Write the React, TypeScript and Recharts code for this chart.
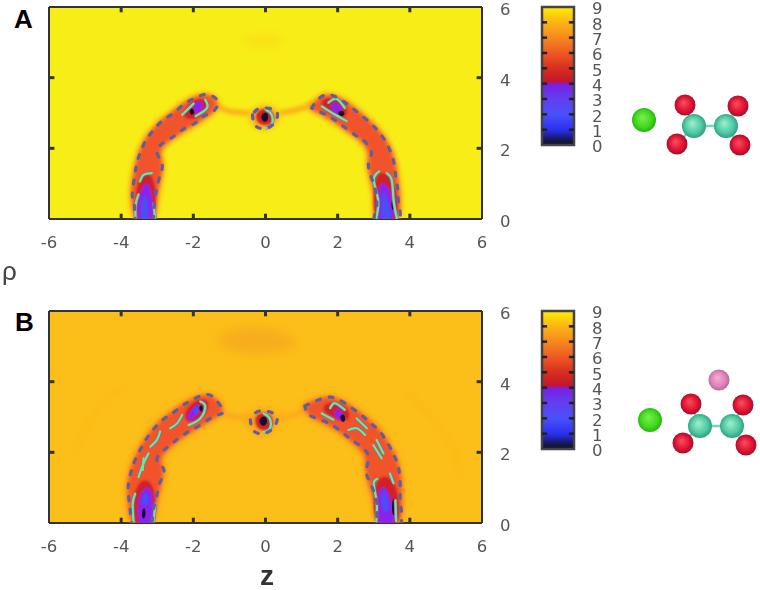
import React from "react";
import {
  CartesianGrid,
  Curve,
  Scatter,
  ScatterChart,
  XAxis,
  YAxis,
} from "recharts";

type Pt = [number, number];

const zTicks = [-6, -4, -2, 0, 2, 4, 6];
const rhoTicks = [0, 2, 4, 6];
const barTicks = [0, 1, 2, 3, 4, 5, 6, 7, 8, 9];
const barBox: Pt[] = [[0, 0], [1, 0], [1, 9], [0, 9]];

// inward tick marks, drawn as short segments so they sit above the field
const plotTickMarks: Pt[][] = [
  ...[-4, -2, 0, 2, 4].flatMap((z): Pt[][] => [[[z, 0], [z, 0.15]], [[z, 6], [z, 5.85]]]),
  ...[2, 4].flatMap((r): Pt[][] => [[[-6, r], [-5.85, r]], [[6, r], [5.85, r]]]),
];
const barTickMarks: Pt[][] = [1, 2, 3, 4, 5, 6, 7, 8].flatMap((v): Pt[][] => [[[0, v], [0.16, v]], [[1, v], [0.84, v]]]);

// ---- panel A as [z, rho]
const aLeftLoop: Pt[] = [
  [-3.61, -0.1], [-3.65, 0.54], [-3.69, 0.73], [-3.58, 1.49], [-3.47, 1.87], [-3.33, 2.2], [-3.13, 2.48], [-2.87, 2.77],
  [-2.57, 2.98], [-2.27, 3.24], [-1.94, 3.43], [-1.6, 3.52], [-1.32, 3.31], [-1.48, 3.02], [-1.71, 2.91], [-1.94, 2.72],
  [-2.22, 2.58], [-2.5, 2.37], [-2.81, 2.17], [-3.01, 1.91], [-2.87, 1.56], [-2.92, 1.25], [-3.01, 0.87], [-3.08, 0.45], [-3.1, -0.1],
];
const aRightLoop: Pt[] = [
  [1.28, 3.14], [1.44, 3.36], [1.74, 3.52], [2.16, 3.33], [2.48, 3.08], [2.82, 2.79], [3.1, 2.51], [3.31, 2.22], [3.47, 1.89],
  [3.57, 1.53], [3.61, 1.2], [3.66, 0.87], [3.69, 0.45], [3.66, -0.1], [3.08, -0.1], [3.06, 0.26], [3.08, 0.63], [2.99, 1.01],
  [2.85, 1.56], [2.94, 1.87], [2.76, 2.18], [2.55, 2.34], [2.25, 2.55], [1.94, 2.79], [1.62, 2.98], [1.28, 3.14],
];
const aCentreLoop: Pt[] = [[-0.36, 2.95], [-0.25, 2.61], [0.12, 2.61], [0.33, 2.9], [0.21, 3.1], [-0.16, 3.13], [-0.36, 2.95]];
const aBridgeL: Pt[] = [[-1.35, 3.2], [-1, 3.05], [-0.45, 3]];
const aBridgeR: Pt[] = [[1.3, 3.25], [0.9, 3.1], [0.4, 3]];
const aSmudge: Pt[] = [[-0.9, 5], [-0.3, 5.25], [0.6, 5.2], [0.5, 4.9], [-0.2, 4.85]];
const aLLRed: Pt[] = [[-3.6, -0.2], [-3.62, 0.6], [-3.5, 1.2], [-3.2, 1.35], [-3.02, 0.9], [-3.06, -0.2]];
const aLLPurple: Pt[] = [[-3.52, -0.2], [-3.55, 0.5], [-3.35, 1.05], [-3.2, 0.95], [-3.13, 0.4], [-3.16, -0.2]];
const aLLBlue: Pt[] = [[-3.47, -0.2], [-3.47, 0.5], [-3.33, 0.75], [-3.24, 0.5], [-3.22, -0.2]];
const aULRed: Pt[] = [[-2.36, 2.95], [-1.99, 3.43], [-1.57, 3.38], [-1.62, 3], [-2.08, 2.77]];
const aULPurple: Pt[] = [[-2.04, 3.19], [-1.81, 3.38], [-1.71, 3.14], [-1.94, 2.95]];
const aULBlack: Pt[] = [[-2.12, 3.1], [-2, 3.15], [-1.95, 2.98], [-2.08, 2.92]];
const aURRed: Pt[] = [[1.46, 3.29], [1.74, 3.48], [2.25, 3.29], [2.3, 2.81], [1.79, 2.95]];
const aURPurple: Pt[] = [[1.79, 3.29], [2.02, 3.29], [2.16, 2.95], [1.88, 3]];
const aURBlack: Pt[] = [[2, 3.05], [2.18, 3.08], [2.2, 2.9], [2.02, 2.92]];
const aLRRed: Pt[] = [[3, -0.2], [2.98, 0.9], [3.12, 1.4], [3.5, 1.2], [3.68, 0.6], [3.66, -0.2]];
const aLRPurple: Pt[] = [[3.13, -0.2], [3.12, 0.6], [3.2, 1.1], [3.4, 0.9], [3.55, 0.4], [3.55, -0.2]];
const aLRBlue: Pt[] = [[3.2, -0.2], [3.2, 0.5], [3.25, 0.9], [3.37, 0.6], [3.48, 0.2], [3.48, -0.2]];
const aLRBlack: Pt[] = [[3.5, 0.2], [3.48, 0.5], [3.55, 0.6], [3.62, 0.3]];
const aCentreRed: Pt[] = [[-0.3, 2.95], [-0.2, 2.65], [0.15, 2.65], [0.28, 2.9], [0.1, 3.12], [-0.15, 3.12]];
const aCentreDark: Pt[] = [[-0.15, 2.9], [-0.05, 2.72], [0.08, 2.78], [0.08, 3], [-0.05, 3.02]];
const aGreens: Pt[][] = [
  [[-3.6, 0.02], [-3.6, 0.4], [-3.52, 0.7]],
  [[-3.06, 0.02], [-3.1, 0.45]],
  [[-3.48, 1.06], [-3.38, 1.25], [-3.15, 1.3]],
  [[-2.31, 2.95], [-1.99, 3.27]],
  [[-1.94, 2.91], [-1.62, 3.14], [-1.67, 3.38]],
  [[1.56, 3.19], [1.93, 2.95], [2.25, 2.77]],
  [[1.74, 3.29], [1.97, 3.4], [2.2, 3.14]],
  [[3.07, 0.02], [3.12, 0.55], [3, 1.1], [3.15, 1.35]],
  [[3.64, 0.02], [3.55, 0.55], [3.5, 1.1], [3.36, 1.3]],
  [[0, 3.1], [0.17, 2.95], [0.17, 2.67], [0, 2.58]],
];

// ---- panel B
const bLeftLoop: Pt[] = [
  [-3.7, -0.1], [-3.77, 0.55], [-3.8, 1.07], [-3.7, 1.54], [-3.59, 1.83], [-3.38, 2.25], [-3.15, 2.59], [-2.87, 2.9],
  [-2.55, 3.13], [-2.27, 3.34], [-1.94, 3.53], [-1.57, 3.63], [-1.3, 3.39], [-1.18, 3.13], [-1.44, 3.01], [-1.81, 2.77],
  [-2.13, 2.59], [-2.47, 2.35], [-2.76, 2.11], [-3.01, 1.8], [-2.82, 1.52], [-2.92, 1.16], [-3.01, 0.79], [-3.1, 0.41], [-3.15, -0.1],
];
const bRightLoop: Pt[] = [
  [1.09, 3.31], [1.46, 3.48], [1.81, 3.56], [2.2, 3.39], [2.71, 3.01], [2.99, 2.76], [3.24, 2.49], [3.56, 1.92], [3.69, 1.54],
  [3.73, 1.16], [3.73, 0.79], [3.75, 0.45], [3.69, -0.1], [3.13, -0.1], [3.1, 0.45], [2.9, 1.14], [2.79, 1.52], [2.85, 1.92],
  [2.53, 2.25], [2.25, 2.46], [1.94, 2.71], [1.58, 2.9], [1.21, 3.06], [1.09, 3.31],
];
const bCentreLoop: Pt[] = [[-0.42, 2.92], [-0.3, 2.58], [0.08, 2.58], [0.32, 2.9], [0.18, 3.12], [-0.2, 3.16], [-0.42, 2.92]];
const bBridgeL: Pt[] = [[-1.2, 3.12], [-0.85, 3], [-0.45, 2.98]];
const bBridgeR: Pt[] = [[1.1, 3.25], [0.8, 3.05], [0.35, 2.98]];
const bSmudge: Pt[] = [[-1.6, 5.2], [-0.7, 5.6], [0.4, 5.5], [1.1, 5.05], [0.2, 4.75], [-0.9, 4.8]];
const bFaintArcR: Pt[] = [[3.9, 3.7], [4.6, 3], [5.2, 2.1], [5.4, 1.3]];
const bFaintArcL: Pt[] = [[-5.3, 2], [-4.6, 3.3], [-3.9, 3.9]];
const bLLRed: Pt[] = [[-3.65, -0.2], [-3.68, 0.8], [-3.45, 1.25], [-3.15, 1.2], [-3.02, 0.6], [-3.1, -0.2]];
const bLLPurple: Pt[] = [[-3.5, -0.2], [-3.55, 0.6], [-3.35, 1.05], [-3.15, 0.95], [-3.12, 0.4], [-3.2, -0.2]];
const bLLBlue: Pt[] = [[-3.48, 0.45], [-3.38, 0.9], [-3.25, 0.85], [-3.22, 0.5]];
const bLLBlack: Pt[] = [[-3.45, 0.18], [-3.38, 0.5], [-3.3, 0.3], [-3.36, 0.08]];
const bULRed: Pt[] = [[-2.31, 3.1], [-1.9, 3.53], [-1.53, 3.49], [-1.62, 3.06], [-2.13, 2.77]];
const bULPurple: Pt[] = [[-2.22, 2.96], [-1.9, 3.39], [-1.76, 3.25], [-2.08, 2.87]];
const bULBlue: Pt[] = [[-2.04, 3.25], [-1.85, 3.37], [-1.81, 3.15], [-1.94, 3.06]];
const bULBlack: Pt[] = [[-1.86, 3.28], [-1.76, 3.36], [-1.72, 3.2], [-1.8, 3.12]];
const bURRed: Pt[] = [[1.51, 3.25], [1.83, 3.48], [2.34, 3.25], [2.34, 2.82], [1.79, 3.01]];
const bURPurple: Pt[] = [[1.88, 3.2], [2.11, 3.2], [2.2, 2.87], [1.97, 2.96]];
const bURBlack: Pt[] = [[2.05, 3.05], [2.2, 3.1], [2.22, 2.85], [2.1, 2.85]];
const bLRRed: Pt[] = [[3, -0.2], [2.98, 0.9], [3.15, 1.35], [3.55, 1.3], [3.72, 0.6], [3.7, -0.2]];
const bLRPurple: Pt[] = [[3.15, -0.2], [3.1, 0.6], [3.2, 1.1], [3.4, 0.9], [3.55, 0.3], [3.55, -0.2]];
const bLRBlue: Pt[] = [[3.2, 0.35], [3.2, 0.9], [3.3, 1], [3.45, 0.45], [3.4, 0.3]];
const bLRBlack: Pt[] = [[3.5, 0.2], [3.5, 0.7], [3.62, 0.7], [3.62, 0.2]];
const bCentreRed: Pt[] = [[-0.32, 2.95], [-0.22, 2.62], [0.12, 2.62], [0.25, 2.9], [0.08, 3.12], [-0.18, 3.12]];
const bCentreDark: Pt[] = [[-0.2, 2.9], [-0.1, 2.72], [0.05, 2.78], [0.05, 3], [-0.1, 3.02]];
const bGreens: Pt[][] = [
  [[-3.66, 0.05], [-3.68, 0.55], [-3.61, 0.83]],
  [[-3.1, 0.05], [-3.05, 0.55]],
  [[-3.52, 1.3], [-3.38, 1.69], [-3.24, 1.97]],
  [[-3.38, 1.83], [-3.4, 1.5]],
  [[-3.19, 2.16], [-3.01, 2.35], [-2.92, 2.59]],
  [[-2.64, 2.68], [-2.45, 2.82], [-2.31, 3.06]],
  [[-2.13, 2.77], [-1.81, 2.96], [-1.67, 3.3], [-1.81, 3.44]],
  [[1.79, 3.25], [1.93, 3.39], [2.2, 3.2]],
  [[1.56, 3.1], [1.88, 2.92]],
  [[2.53, 2.96], [2.81, 2.68]],
  [[2.3, 2.63], [2.53, 2.68], [2.76, 2.49]],
  [[3.08, 2.35], [3.27, 1.97]],
  [[2.99, 2.2], [3.22, 1.83]],
  [[3.45, 1.4], [3.55, 1.12]],
  [[3.07, 0.05], [3.08, 0.6], [3, 1.1], [3.1, 1.25]],
  [[3.62, 0.05], [3.6, 0.65]],
  [[-0.05, 3.1], [0.12, 2.95], [0.12, 2.67], [-0.05, 2.58]],
];

// ---- molecules, in arbitrary drawing units
const chlorineA: Pt[] = [[24, 40]];
const carbonA: Pt[] = [[74, 34], [106, 34]];
const oxygenA: Pt[] = [[65, 55], [118, 54], [57, 16], [120, 15]];
const chlorineB: Pt[] = [[30, 40]];
const carbonB: Pt[] = [[80, 34], [112, 34]];
const oxygenB: Pt[] = [[71, 56], [123, 55], [63, 17], [126, 15]];
const pinkB: Pt[] = [[99, 80]];

const toPts = (pts: Pt[]) => pts.map(([z, rho]) => ({ z, rho }));

const LAYER_STYLES: Record<string, any> = {
  smudge: { type: "basisClosed", fill: "var(--smudge)", filter: "url(#blur4)" },
  faint: { type: "natural", fill: "none", stroke: "#fbbb19", strokeWidth: 4, filter: "url(#blur2)" },
  halo: { type: "basisClosed", fill: "#fb9a20", stroke: "#fb9a20", strokeWidth: 6, filter: "url(#blur3)" },
  bridge: { type: "natural", fill: "none", stroke: "#fba81c", strokeWidth: 5, filter: "url(#blur2)" },
  core: { type: "basisClosed", fill: "#f1532a", stroke: "#f1532a", strokeWidth: 3, filter: "url(#blur2)" },
  red: { type: "basisClosed", fill: "#cf2028", filter: "url(#blur1)" },
  magenta: { type: "basisClosed", fill: "#c020c8", stroke: "#c020c8", strokeWidth: 2, filter: "url(#blur1)" },
  purple: { type: "basisClosed", fill: "#8a24ee", filter: "url(#blur1)" },
  blue: { type: "basisClosed", fill: "#4a50f4", filter: "url(#blur1)" },
  black: { type: "basisClosed", fill: "#170f2c", filter: "url(#blur05)" },
  dash: { type: "natural", fill: "none", stroke: "#5e5f9c", strokeWidth: 3.2, strokeDasharray: "4 9", strokeLinecap: "round", filter: "url(#blur05)" },
  greenEdge: { type: "natural", fill: "none", stroke: "#9a58b8", strokeWidth: 3.4, filter: "url(#blur05)" },
  green: { type: "natural", fill: "none", stroke: "#62f08e", strokeWidth: 2.2, strokeLinecap: "round" },
};

const layersA: [string, Pt[]][] = [
  ["smudge", aSmudge],
  ["bridge", aBridgeL], ["bridge", aBridgeR],
  ["halo", aLeftLoop], ["halo", aRightLoop], ["halo", aCentreLoop],
  ["core", aLeftLoop], ["core", aRightLoop],
  ["red", aLLRed], ["red", aULRed], ["red", aURRed], ["red", aLRRed], ["red", aCentreRed],
  ["magenta", aLLPurple], ["magenta", aLRPurple], ["magenta", aULPurple], ["magenta", aURPurple],
  ["purple", aLLPurple], ["purple", aLRPurple], ["purple", aULPurple], ["purple", aURPurple],
  ["blue", aLLBlue], ["blue", aLRBlue],
  ["black", aULBlack], ["black", aURBlack], ["black", aLRBlack], ["black", aCentreDark],
  ...aGreens.map((g): [string, Pt[]] => ["greenEdge", g]),
  ...aGreens.map((g): [string, Pt[]] => ["green", g]),
  ["dash", aLeftLoop], ["dash", aRightLoop], ["dash", aCentreLoop],
];

const layersB: [string, Pt[]][] = [
  ["smudge", bSmudge],
  ["faint", bFaintArcR], ["faint", bFaintArcL],
  ["bridge", bBridgeL], ["bridge", bBridgeR],
  ["halo", bLeftLoop], ["halo", bRightLoop], ["halo", bCentreLoop],
  ["core", bLeftLoop], ["core", bRightLoop],
  ["red", bLLRed], ["red", bULRed], ["red", bURRed], ["red", bLRRed], ["red", bCentreRed],
  ["magenta", bLLPurple], ["magenta", bLRPurple], ["magenta", bULPurple], ["magenta", bURPurple],
  ["purple", bLLPurple], ["purple", bLRPurple], ["purple", bULPurple], ["purple", bURPurple],
  ["blue", bLLBlue], ["blue", bLRBlue], ["blue", bULBlue],
  ["black", bLLBlack], ["black", bULBlack], ["black", bURBlack], ["black", bLRBlack], ["black", bCentreDark],
  ...bGreens.map((g): [string, Pt[]] => ["greenEdge", g]),
  ...bGreens.map((g): [string, Pt[]] => ["green", g]),
  ["dash", bLeftLoop], ["dash", bRightLoop], ["dash", bCentreLoop],
];

const FRAME = "#333";
const TICK_TEXT = { fontSize: 16.5, fill: "#555", fontFamily: "DejaVu Sans" };
const NoDot = () => <g />;
const NoTick = () => <g />;

function BlurDefs() {
  return (
    <defs>
      {[["blur05", 0.5], ["blur1", 1], ["blur2", 2], ["blur3", 3], ["blur4", 5]].map(([id, sd]) => (
        <filter key={id} id={String(id)} filterUnits="userSpaceOnUse" x={0} y={0} width={600} height={300}>
          <feGaussianBlur stdDeviation={sd} />
        </filter>
      ))}
    </defs>
  );
}

function Contour({ layers, bg, smudge, top }: { layers: [string, Pt[]][]; bg: string; smudge: string; top: number }) {
  return (
    <div style={{ position: "absolute", left: 0, top: top - 10, filter: "blur(0.4px)", ["--smudge" as any]: smudge }}>
      <ScatterChart width={540} height={270} margin={{ top: 16, left: 48, right: 0, bottom: 0 }}>
        <BlurDefs />
        <CartesianGrid horizontal={false} vertical={false} fill={bg} />
        {layers.map(([kind, pts], i) => {
          const style = LAYER_STYLES[kind];
          return (
            <Scatter
              key={i}
              data={toPts(pts)}
              isAnimationActive={false}
              shape={NoDot}
              line={(p: any) => <Curve points={p.points} {...style} />}
            />
          );
        })}
        {plotTickMarks.map((seg, i) => (
          <Scatter key={`t${i}`} data={toPts(seg)} isAnimationActive={false} shape={NoDot} line={{ stroke: FRAME, strokeWidth: 3 }} />
        ))}
        <XAxis
          type="number"
          dataKey="z"
          domain={[-6, 6]}
          ticks={zTicks}
          allowDataOverflow
          height={41}
          interval={0}
          tick={TICK_TEXT}
          tickLine={false}
          tickSize={0}
          tickMargin={17}
          stroke={FRAME}
          strokeWidth={2}
        />
        <XAxis xAxisId="top" orientation="top" type="number" domain={[-6, 6]} ticks={zTicks} height={1} interval={0} tick={NoTick} tickLine={false} stroke={FRAME} strokeWidth={2} />
        <YAxis
          type="number"
          dataKey="rho"
          orientation="right"
          domain={[0, 6]}
          ticks={rhoTicks}
          allowDataOverflow
          width={58}
          interval={0}
          tick={{ ...TICK_TEXT, dy: 2 }}
          tickLine={false}
          tickSize={0}
          tickMargin={18}
          stroke={FRAME}
          strokeWidth={2}
        />
        <YAxis yAxisId="left" type="number" domain={[0, 6]} ticks={rhoTicks} width={1} interval={0} tick={NoTick} tickLine={false} stroke={FRAME} strokeWidth={2} />
      </ScatterChart>
    </div>
  );
}

function ColorBar({ top, id }: { top: number; id: string }) {
  return (
    <div style={{ position: "absolute", left: 530, top: top - 10, filter: "blur(0.4px)" }}>
      <ScatterChart width={91} height={170} margin={{ top: 17, left: 12, right: 0, bottom: 15 }}>
        <defs>
          <linearGradient id={id} x1="0" y1="0" x2="0" y2="1">
            <stop offset="0%" stopColor="#ffee00" />
            <stop offset="11%" stopColor="#fcb415" />
            <stop offset="22%" stopColor="#f58a1e" />
            <stop offset="33%" stopColor="#ee5a24" />
            <stop offset="44%" stopColor="#d8301f" />
            <stop offset="54%" stopColor="#c4162a" />
            <stop offset="56%" stopColor="#7a20e0" />
            <stop offset="67%" stopColor="#6040f0" />
            <stop offset="78%" stopColor="#4a50f8" />
            <stop offset="89%" stopColor="#2a30f0" />
            <stop offset="95%" stopColor="#1a1a70" />
            <stop offset="100%" stopColor="#111" />
          </linearGradient>
        </defs>
        <Scatter
          data={toPts(barBox)}
          isAnimationActive={false}
          shape={NoDot}
          line={(p: any) => <Curve points={p.points} type="linearClosed" fill={`url(#${id})`} stroke="#444" strokeWidth={2.5} />}
        />
        {barTickMarks.map((seg, i) => (
          <Scatter key={i} data={toPts(seg)} isAnimationActive={false} shape={NoDot} line={{ stroke: "#222", strokeWidth: 2.5 }} />
        ))}
        <XAxis type="number" dataKey="z" domain={[0, 1]} hide height={0} />
        <YAxis
          type="number"
          dataKey="rho"
          orientation="right"
          domain={[0, 9]}
          ticks={barTicks}
          width={47}
          interval={0}
          tick={{ ...TICK_TEXT, fontSize: 16.5, dy: 1.5 }}
          tickLine={false}
          tickSize={0}
          tickMargin={18}
          axisLine={false}
        />
      </ScatterChart>
    </div>
  );
}

const atom = (r: number, fill: string) => (p: any) => <circle cx={p.cx} cy={p.cy} r={r} fill={fill} />;

function Molecule({ top, height, cl, c, o, pink }: { top: number; height: number; cl: Pt[]; c: Pt[]; o: Pt[]; pink?: Pt[] }) {
  const bonds: Pt[][] = [[c[0], c[1]], [c[0], o[0]], [c[0], o[2]], [c[1], o[1]], [c[1], o[3]]];
  return (
    <div style={{ position: "absolute", left: 620, top, filter: "blur(0.5px)" }}>
      <ScatterChart width={140} height={height} margin={{ top: 0, left: 0, right: 0, bottom: 0 }}>
        <defs>
          {[["gCl", "#7cf050", "#3ed81c", "#22a810"], ["gC", "#a0f0d0", "#4cc8a0", "#2a9078"], ["gO", "#f85060", "#e01030", "#8a1030"], ["gP", "#f4b0d8", "#e080b8", "#a86090"]].map(([id, a, b, d]) => (
            <radialGradient key={id} id={id} cx="50%" cy="50%" r="55%" fx="42%" fy="38%">
              <stop offset="0%" stopColor={a} />
              <stop offset="65%" stopColor={b} />
              <stop offset="100%" stopColor={d} />
            </radialGradient>
          ))}
        </defs>
        <XAxis type="number" dataKey="z" domain={[0, 140]} hide height={0} />
        <YAxis type="number" dataKey="rho" domain={[0, height]} hide width={0} />
        {bonds.map((b, i) => (
          <Scatter key={i} data={toPts(b)} isAnimationActive={false} shape={NoDot} line={{ stroke: "#6fd8b8", strokeWidth: 2.5 }} />
        ))}
        <Scatter data={toPts(cl)} isAnimationActive={false} shape={atom(12, "url(#gCl)")} />
        <Scatter data={toPts(c)} isAnimationActive={false} shape={atom(12, "url(#gC)")} />
        <Scatter data={toPts(o)} isAnimationActive={false} shape={atom(10.5, "url(#gO)")} />
        {pink && <Scatter data={toPts(pink)} isAnimationActive={false} shape={atom(10.5, "url(#gP)")} />}
      </ScatterChart>
    </div>
  );
}

const labelStyle: React.CSSProperties = { position: "absolute", fontFamily: "Liberation Sans", lineHeight: 1, color: "#000" };

export default function App() {
  return (
    <div style={{ position: "absolute", left: 0, top: 0, width: 760, height: 590, background: "#fff", overflow: "hidden" }}>
      <Contour layers={layersA} bg="#f8ee17" smudge="#f8e018" top={0} />
      <Contour layers={layersB} bg="#fcbe18" smudge="#f8ae1c" top={304} />
      <ColorBar top={0} id="barA" />
      <ColorBar top={304} id="barB" />
      <Molecule top={90} height={70} cl={chlorineA} c={carbonA} o={oxygenA} />
      <Molecule top={365} height={95} cl={chlorineB} c={carbonB} o={oxygenB} pink={pinkB} />
      <div style={{ ...labelStyle, left: 14, top: 6, fontSize: 26, fontWeight: 700 }}>A</div>
      <div style={{ ...labelStyle, left: 15, top: 309, fontSize: 26, fontWeight: 700 }}>B</div>
      <div style={{ ...labelStyle, left: 2, top: 258, fontSize: 26, color: "#444", filter: "blur(0.4px)" }}>ρ</div>
      <div style={{ ...labelStyle, left: 260, top: 562, fontSize: 28, fontWeight: 700, color: "#333", filter: "blur(0.4px)" }}>z</div>
    </div>
  );
}
